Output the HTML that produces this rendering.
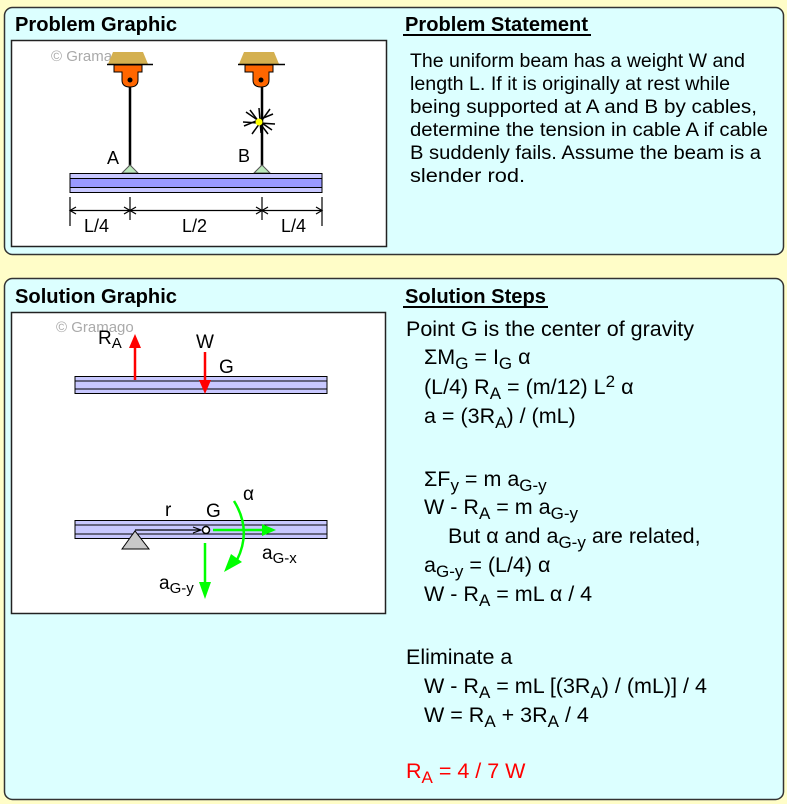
<!DOCTYPE html>
<html><head><meta charset="utf-8"><style>
html,body{margin:0;padding:0;background:#fffdc8;}
svg{display:block;font-family:"Liberation Sans",Arial,sans-serif;}
</style></head><body>
<svg width="787" height="804" viewBox="0 0 787 804" xmlns="http://www.w3.org/2000/svg">
<rect x="0" y="0" width="787" height="804" fill="#fffdc8"/>
<rect x="4.5" y="7.5" width="779" height="247" rx="8" fill="#dcffff" stroke="#333" stroke-width="1.5"/>
<rect x="4.5" y="278.5" width="779" height="521" rx="8" fill="#dcffff" stroke="#333" stroke-width="1.5"/>

<text x="15" y="31" font-size="20" font-weight="bold" textLength="162" lengthAdjust="spacingAndGlyphs">Problem Graphic</text>
<text x="405" y="31" font-size="20" font-weight="bold" textLength="183" lengthAdjust="spacingAndGlyphs">Problem Statement</text>
<line x1="403" y1="35" x2="591" y2="35" stroke="#000" stroke-width="2"/>
<text x="15" y="303" font-size="20" font-weight="bold" textLength="162" lengthAdjust="spacingAndGlyphs">Solution Graphic</text>
<text x="405" y="303" font-size="20" font-weight="bold" textLength="141" lengthAdjust="spacingAndGlyphs">Solution Steps</text>
<line x1="403" y1="307" x2="548" y2="307" stroke="#000" stroke-width="2"/>

<rect x="11.5" y="40.5" width="375" height="206" fill="#fff" stroke="#222" stroke-width="1.5"/>
<text x="51" y="61" font-size="15" fill="#aaa">© Gramago</text>
<g>
 <polygon points="113,52 143,52 148,64 108,64" fill="#d4b050"/>
 <line x1="107" y1="64.5" x2="153" y2="64.5" stroke="#000" stroke-width="1.5"/>
 <path d="M114,65 H142 V72 H138 V80 Q138,87 130,87 Q122,87 122,80 V72 H114 Z" fill="#ff6600" stroke="#000" stroke-width="1"/>
 <circle cx="130" cy="80" r="2.5" fill="#000"/>
 <line x1="130" y1="87" x2="130" y2="167" stroke="#000" stroke-width="2.5"/>
 <polygon points="122,173 130,165 138,173" fill="#bbe8bb" stroke="#555" stroke-width="1"/>
 <polygon points="244,52 274,52 279,64 239,64" fill="#d4b050"/>
 <line x1="238" y1="64.5" x2="285" y2="64.5" stroke="#000" stroke-width="1.5"/>
 <path d="M245,65 H273 V72 H269 V80 Q269,87 261,87 Q253,87 253,80 V72 H245 Z" fill="#ff6600" stroke="#000" stroke-width="1"/>
 <circle cx="261" cy="80" r="2.5" fill="#000"/>
 <line x1="262" y1="87" x2="262" y2="167" stroke="#000" stroke-width="2.5"/>
 <polygon points="254,173 262,165 270,173" fill="#bbe8bb" stroke="#555" stroke-width="1"/>
 <g stroke="#000" stroke-width="1.5">
  <line x1="244" y1="126" x2="273" y2="114"/><line x1="246" y1="112" x2="272" y2="130"/>
  <line x1="259" y1="108" x2="261" y2="133"/><line x1="243" y1="122" x2="275" y2="124"/>
  <line x1="250" y1="110" x2="268" y2="134"/><line x1="270" y1="109" x2="252" y2="134"/>
 </g>
 <circle cx="259" cy="122" r="3.5" fill="#ffff00"/>
 <text x="107" y="164" font-size="18">A</text>
 <text x="238" y="162" font-size="18">B</text>
 <rect x="70" y="173.5" width="252" height="19" fill="#c8c8ff" stroke="#000" stroke-width="1"/>
 <rect x="70" y="178.5" width="252" height="9" fill="#9999ff" stroke="#000" stroke-width="1"/>
 <g stroke="#000" stroke-width="1.2">
  <line x1="70" y1="197" x2="70" y2="226"/><line x1="130" y1="197" x2="130" y2="220"/>
  <line x1="262" y1="197" x2="262" y2="220"/><line x1="322" y1="197" x2="322" y2="226"/>
  <line x1="70" y1="210.5" x2="322" y2="210.5"/>
  <polyline points="76,207 70,210.5 76,214" fill="none"/>
  <polyline points="124,207 130,210.5 124,214" fill="none"/>
  <polyline points="136,207 130,210.5 136,214" fill="none"/>
  <polyline points="256,207 262,210.5 256,214" fill="none"/>
  <polyline points="268,207 262,210.5 268,214" fill="none"/>
  <polyline points="316,207 322,210.5 316,214" fill="none"/>
 </g>
 <text x="84" y="232" font-size="18">L/4</text>
 <text x="182" y="232" font-size="18">L/2</text>
 <text x="281" y="232" font-size="18">L/4</text>
</g>

<g font-size="19" lengthAdjust="spacingAndGlyphs">
<text x="410" y="67" textLength="335" lengthAdjust="spacingAndGlyphs">The uniform beam has a weight W and</text>
<text x="410" y="90" textLength="320" lengthAdjust="spacingAndGlyphs">length L. If it is originally at rest while</text>
<text x="410" y="113" textLength="347" lengthAdjust="spacingAndGlyphs">being supported at A and B by cables,</text>
<text x="410" y="136" textLength="358" lengthAdjust="spacingAndGlyphs">determine the tension in cable A if cable</text>
<text x="410" y="159" textLength="351" lengthAdjust="spacingAndGlyphs">B suddenly fails. Assume the beam is a</text>
<text x="410" y="182" textLength="115" lengthAdjust="spacingAndGlyphs">slender rod.</text>
</g>

<rect x="11.5" y="312.5" width="374" height="301" fill="#fff" stroke="#222" stroke-width="1.5"/>
<text x="56" y="332" font-size="15" fill="#aaa">© Gramago</text>
<rect x="75" y="376.5" width="252" height="17" fill="#c8c8ff" stroke="#000" stroke-width="1"/>
<line x1="75" y1="381" x2="327" y2="381" stroke="#000"/><line x1="75" y1="389" x2="327" y2="389" stroke="#000"/>
<line x1="135" y1="380" x2="135" y2="346" stroke="#f00" stroke-width="2.5"/>
<polygon points="129,348 135,334 141,348" fill="#f00"/>
<line x1="205" y1="352" x2="205" y2="382" stroke="#f00" stroke-width="2.5"/>
<polygon points="199,380 205,394 211,380" fill="#f00"/>
<text x="98" y="344" font-size="19">R<tspan font-size="15" dy="4">A</tspan></text>
<text x="196" y="348" font-size="19">W</text>
<text x="219" y="373" font-size="19">G</text>

<rect x="75" y="520.5" width="252" height="18" fill="#c8c8ff" stroke="#000" stroke-width="1"/>
<line x1="75" y1="525" x2="327" y2="525" stroke="#000"/><line x1="75" y1="534" x2="327" y2="534" stroke="#000"/>
<polygon points="122,549 135,531 149,549" fill="#c8c8c8" stroke="#000" stroke-width="1"/>
<line x1="135" y1="530" x2="200" y2="530" stroke="#000" stroke-width="1.2"/>
<polyline points="193,527 201,530 193,533" fill="none" stroke="#000" stroke-width="1.2"/>
<circle cx="206" cy="530" r="3.5" fill="#fff" stroke="#000" stroke-width="1.5"/>
<line x1="213" y1="530" x2="266" y2="530" stroke="#0f0" stroke-width="2.5"/>
<polygon points="262,524 276,530 262,536" fill="#0f0"/>
<line x1="205" y1="543" x2="205" y2="585" stroke="#0f0" stroke-width="2.5"/>
<polygon points="199,582 205,599 211,582" fill="#0f0"/>
<path d="M234,501 Q252,530 237,560" fill="none" stroke="#0f0" stroke-width="2.5"/>
<polygon points="224,572 231,554 242,562" fill="#0f0"/>
<text x="165" y="516" font-size="19">r</text>
<text x="206" y="517" font-size="19">G</text>
<text x="243" y="500" font-size="19">α</text>
<text x="262" y="559" font-size="19">a<tspan font-size="15" dy="4">G-x</tspan></text>
<text x="159" y="589" font-size="19">a<tspan font-size="15" dy="4">G-y</tspan></text>

<g font-size="21.5">
<text x="406" y="336">Point G is the center of gravity</text>
<text x="424" y="364">ΣM<tspan font-size="17" dy="5">G</tspan><tspan dy="-5"> = I</tspan><tspan font-size="17" dy="5">G</tspan><tspan dy="-5"> α</tspan></text>
<text x="424" y="394">(L/4) R<tspan font-size="17" dy="5">A</tspan><tspan dy="-5"> = (m/12) L</tspan><tspan font-size="17" dy="-7">2</tspan><tspan dy="7"> α</tspan></text>
<text x="424" y="423">a = (3R<tspan font-size="17" dy="5">A</tspan><tspan dy="-5">) / (mL)</tspan></text>
<text x="424" y="486">ΣF<tspan font-size="17" dy="5">y</tspan><tspan dy="-5"> = m a</tspan><tspan font-size="17" dy="5">G-y</tspan></text>
<text x="424" y="514">W - R<tspan font-size="17" dy="5">A</tspan><tspan dy="-5"> = m a</tspan><tspan font-size="17" dy="5">G-y</tspan></text>
<text x="448" y="543">But α and a<tspan font-size="17" dy="5">G-y</tspan><tspan dy="-5"> are related,</tspan></text>
<text x="424" y="572">a<tspan font-size="17" dy="5">G-y</tspan><tspan dy="-5"> = (L/4) α</tspan></text>
<text x="424" y="601">W - R<tspan font-size="17" dy="5">A</tspan><tspan dy="-5"> = mL α / 4</tspan></text>
<text x="406" y="664">Eliminate a</text>
<text x="424" y="693">W - R<tspan font-size="17" dy="5">A</tspan><tspan dy="-5"> = mL [(3R</tspan><tspan font-size="17" dy="5">A</tspan><tspan dy="-5">) / (mL)] / 4</tspan></text>
<text x="424" y="722">W = R<tspan font-size="17" dy="5">A</tspan><tspan dy="-5"> + 3R</tspan><tspan font-size="17" dy="5">A</tspan><tspan dy="-5"> / 4</tspan></text>
<text x="406" y="778" fill="#f00">R<tspan font-size="17" dy="5">A</tspan><tspan dy="-5"> = 4 / 7 W</tspan></text>
</g>
</svg>
</body></html>
